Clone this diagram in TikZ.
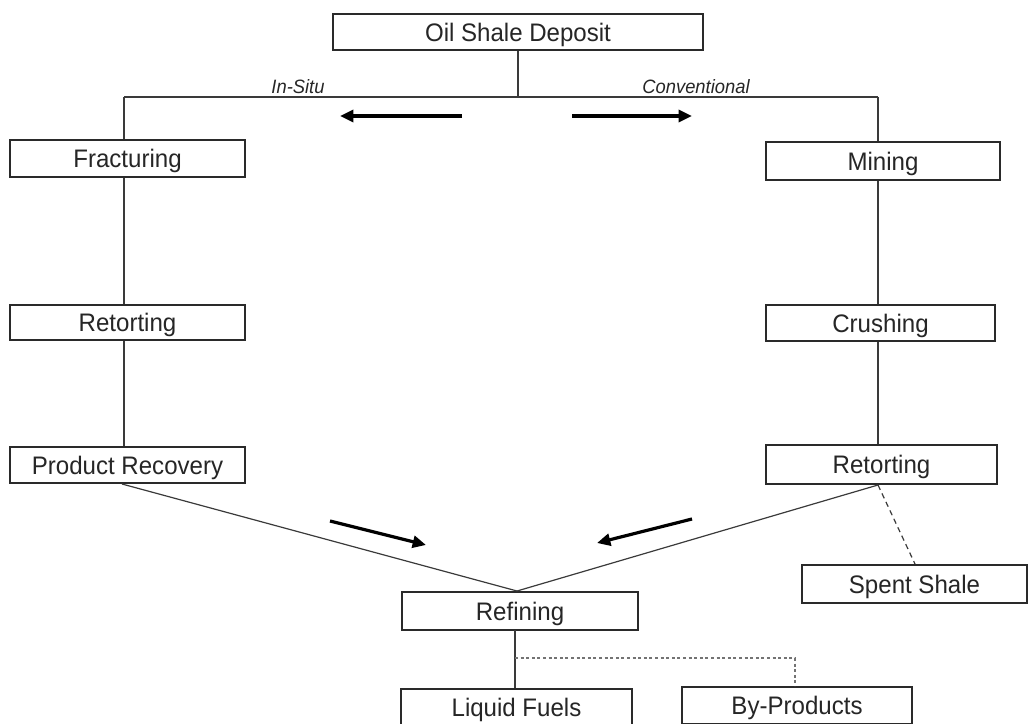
\documentclass[tikz,border=0pt]{standalone}
\usepackage{fontspec}
\setmainfont{Liberation Sans}[FakeStretch=0.95]
\usetikzlibrary{arrows.meta}
\definecolor{boxline}{HTML}{2A2A2A}
\definecolor{conline}{HTML}{3A3A3A}
\begin{document}
\begin{tikzpicture}[x=0.75pt,y=-0.75pt,
  box/.style={draw=boxline,line width=1.5pt,fill=white,inner sep=0pt,
    font=\fontsize{19pt}{22pt}\selectfont,text=black!85,
    text height=13.6pt,text depth=0pt},
  con/.style={draw=conline,line width=0.9pt},
  dashcon/.style={draw=conline,line width=0.9pt,dash pattern=on 4pt off 3pt},
  dotcon/.style={draw=black!55,line width=1.3pt,dash pattern=on 2.2pt off 2pt},
  bigarrow/.style={line width=2.4pt,-{Triangle[length=10pt,width=9pt]}},
  lab/.style={font=\fontsize{14.5pt}{17pt}\selectfont\itshape,text=black!85,inner sep=0pt}]
\useasboundingbox (0,0) rectangle (1028,724);
\clip (0,0) rectangle (1028,724);
% boxes
\node[box,minimum width=277.5pt,minimum height=27pt] (dep) at (518,32) {Oil Shale Deposit};
\node[box,minimum width=176.25pt,minimum height=27.75pt] (frac) at (127.5,158.5) {Fracturing};
\node[box,minimum width=175.5pt,minimum height=28.5pt] (mine) at (883,161) {Mining};
\node[box,minimum width=176.25pt,minimum height=26.25pt] (retL) at (127.5,322.5) {Retorting};
\node[box,minimum width=171.75pt,minimum height=27pt] (crush) at (880.5,323) {Crushing};
\node[box,minimum width=176.25pt,minimum height=27pt] (prod) at (127.5,465) {Product Recovery};
\node[box,minimum width=173.25pt,minimum height=29.25pt] (retR) at (881.5,464.5) {Retorting};
\node[box,minimum width=177pt,minimum height=28.5pt] (ref) at (520,611) {Refining};
\node[box,minimum width=168.75pt,minimum height=28.5pt] (spent) at (914.5,584) {Spent Shale};
\node[box,minimum width=173.25pt,minimum height=27.75pt] (liq) at (516.5,707.5) {Liquid Fuels};
\node[box,minimum width=172.5pt,minimum height=27.75pt] (byp) at (797,705.5) {By-Products};
% junction coordinates
\coordinate (jM) at (518,97);
\coordinate (jL) at (124,97);
\coordinate (jR) at (878,97);
\coordinate (pB) at (122,484);
\coordinate (rB) at (878,485);
\coordinate (refT) at (517,591);
\coordinate (refB) at (515,630);
\coordinate (dj) at (515,658);
\coordinate (dk) at (795,658);
% connectors
\draw[con] (dep.south) -- (jM);
\draw[con] (jL) -- (jR);
\draw[con] (jL) -- (jL |- frac.north);
\draw[con] (jR) -- (jR |- mine.north);
\draw[con] (jL |- frac.south) -- (jL |- retL.north);
\draw[con] (jL |- retL.south) -- (jL |- prod.north);
\draw[con] (jR |- mine.south) -- (jR |- crush.north);
\draw[con] (jR |- crush.south) -- (jR |- retR.north);
\draw[con] (pB) -- (refT);
\draw[con] (rB) -- (refT);
\draw[dashcon] (rB) -- (spent.north -| 915,0);
\draw[con] (refB) -- (refB |- liq.north);
\draw[dotcon] (dj) -- (dk) -- (dk |- byp.north);
% labels
\node[lab] (insitu) at (298,87) {In-Situ};
\node[lab] (conv) at (696,87) {Conventional};
% arrows
\draw[bigarrow] (462,116) -- (340,116);
\draw[bigarrow] (572,116) -- (692,116);
\draw[bigarrow] (330,521) -- (426,545);
\draw[bigarrow] (692,519) -- (597,543);
\end{tikzpicture}
\end{document}
